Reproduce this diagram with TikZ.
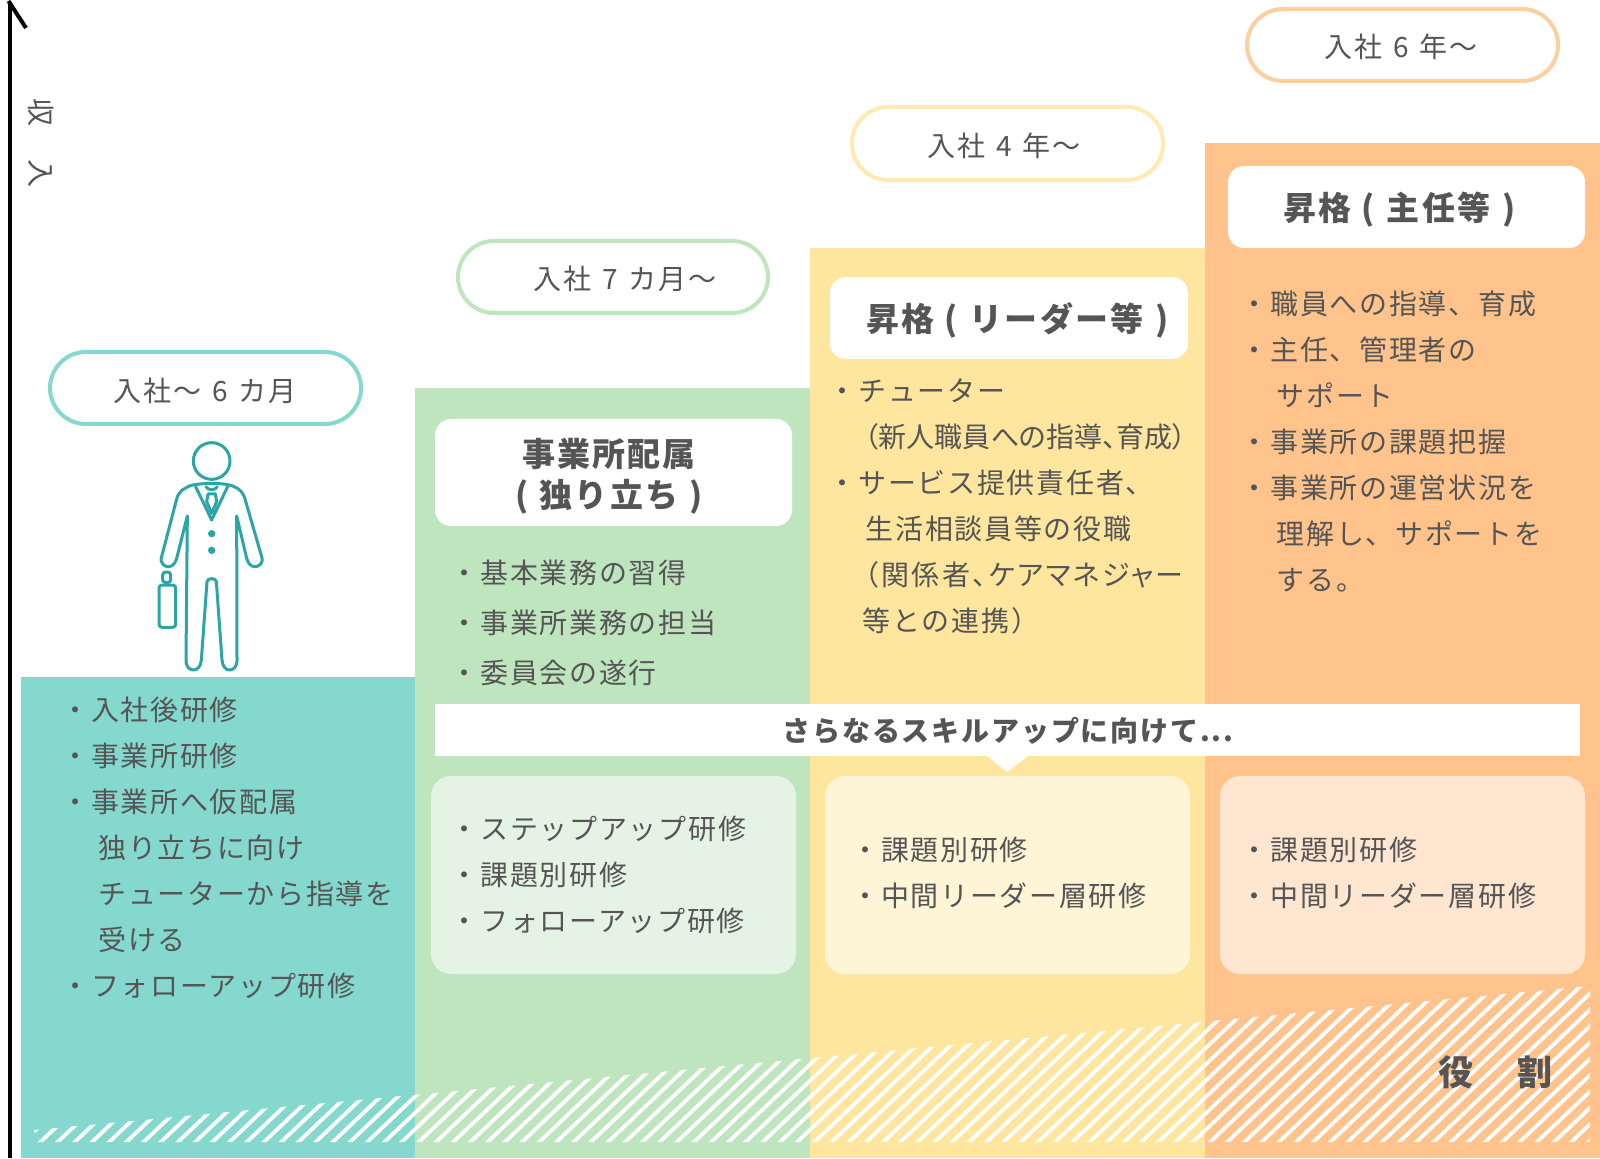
\documentclass[tikz,border=0pt]{standalone}
\usepackage{fontspec}
\newfontfamily\jp[LetterSpace=6]{Noto Sans CJK JP}
\newfontfamily\jptight[RawFeature={+palt}]{Noto Sans CJK JP}
\newfontfamily\jpmid[RawFeature={+palt},LetterSpace=8.5]{Noto Sans CJK JP}
\newfontfamily\jpban[LetterSpace=6.5]{Noto Sans CJK JP}
\newfontfamily\jphead[LetterSpace=6.5]{Noto Sans CJK JP}
\newfontfamily\jprole{Noto Sans CJK JP}
\newcommand\lst{\strut}
\newcommand\hsp{\hspace{5.5pt}}
\definecolor{ink}{HTML}{555555}
\definecolor{cteal}{HTML}{84D8CE}
\definecolor{cgreen}{HTML}{BFE5BF}
\definecolor{cyellow}{HTML}{FEE69E}
\definecolor{corange}{HTML}{FFC38B}
\definecolor{pgreen}{HTML}{E4F3E4}
\definecolor{pyellow}{HTML}{FEF4D6}
\definecolor{porange}{HTML}{FEE6D0}
\definecolor{lyellow}{HTML}{FFEBB0}
\definecolor{lorange}{HTML}{FBCFA0}
\definecolor{person}{HTML}{2BA5A5}
\tikzset{
  band/.style={fill=#1,draw=none},
  pill/.style={draw=#1,line width=2pt,fill=white,rounded corners=18pt},
  titlebox/.style={fill=white,draw=none,rounded corners=8pt},
  palebox/.style={fill=#1,draw=none,rounded corners=10pt},
  pilltext/.style={font=\fontsize{14}{18}\selectfont\jp,text=ink,inner sep=0pt},
  titletext/.style={font=\fontsize{16.5}{20}\selectfont\jphead\bfseries,text=ink,inner sep=0pt,align=center},
  bodytext/.style={font=\fontsize{14}{23}\selectfont\jp,text=ink,inner sep=0pt,align=left,anchor=north west},
  bodywide/.style={font=\fontsize{14}{25}\selectfont\jp,text=ink,inner sep=0pt,align=left,anchor=north west},
  figline/.style={draw=person,line width=1.5pt,line join=round,line cap=round},
}
\begin{document}
\begin{tikzpicture}[x=0.5pt,y=-0.5pt]
\useasboundingbox (0,0) rectangle (1600,1159);
% bands
\fill[band=cteal] (21,677.5) rectangle (415,1158);
\fill[band=cgreen] (415,388) rectangle (810,1158);
\fill[band=cyellow] (810,248) rectangle (1205,1158);
\fill[band=corange] (1205,143) rectangle (1600,1158);
% hatch
\begin{scope}
\clip (34,1130) -- (1590,986) -- (1590,1142) -- (37,1142) -- cycle;
\foreach \k in {-1,0,...,90}{
  \draw[white,line width=1.9pt] ({38.3+\k*17.2},1144) -- ({38.3+\k*17.2+180},{1144-180*0.95});
}
\end{scope}
% axis
\draw[black,line width=2pt] (10,1158) -- (10,2);
\draw[black,line width=2pt] (8.5,1) -- (26,28);
\node[rotate=-90,font=\fontsize{14}{16}\selectfont\jprole,text=ink,inner sep=0pt] (axislabel) at (41,143) {収\hspace{16.5pt}入};
% pills
\draw[pill=cteal] (50,352) rectangle (361,424);
\node[pilltext] (pill1) at (205,391) {入社～\hsp 6\hsp カ月};
\draw[pill=cgreen] (458,241) rectangle (768,313);
\node[pilltext] (pill2) at (625,279) {入社\hsp 7\hsp カ月～};
\draw[pill=lyellow] (852,107) rectangle (1163,180);
\node[pilltext] (pill3) at (1004,146) {入社\hsp 4\hsp 年～};
\draw[pill=lorange] (1247,9) rectangle (1558,81);
\node[pilltext] (pill4) at (1401,47) {入社\hsp 6\hsp 年～};
% title boxes
\fill[titlebox] (435,419) rectangle (792,526);
\node[titletext] (t1a) at (609,454) {事業所配属};
\node[titletext] (t1b) at (609,496.5) {(\hspace{5.5pt}独り立ち\hspace{5.5pt})};
\fill[titlebox] (830,277) rectangle (1188,359);
\node[titletext] (t2) at (1017.5,320.5) {昇格\hspace{5pt}(\hspace{6pt}リーダー等\hspace{6pt})};
\fill[titlebox] (1228,166) rectangle (1585,248);
\node[titletext] (t3) at (1399.5,209.5) {昇格\hspace{5pt}(\hspace{6pt}主任等\hspace{6pt})};
% banner
\fill[white] (435,704) rectangle (1580,756);
\fill[white] (987,756) -- (1028,756) -- (1007,772) -- cycle;
\node[font=\fontsize{14}{16}\selectfont\jpban\bfseries,text=ink,inner sep=0pt] (banner) at (1008,731) {さらなるスキルアップに向けて...};
% pale boxes
\fill[palebox=pgreen] (431,776) rectangle (796,974);
\fill[palebox=pyellow] (825,776) rectangle (1190,974);
\fill[palebox=porange] (1220,776) rectangle (1585,974);
% body text
\node[bodytext] (b1) at (61,688) {\lst・入社後研修\\・事業所研修\\・事業所へ仮配属\\\hspace*{18.5pt}独り立ちに向け\\\hspace*{18.5pt}チューターから指導を\\\hspace*{18.5pt}受ける\\・フォローアップ研修};
\node[bodywide] (b2) at (450.5,548) {\lst・基本業務の習得\\・事業所業務の担当\\・委員会の遂行};
\node[bodytext] (b3) at (828.5,368.5) {\lst・チューター\\\hspace*{18pt}{\jptight（新人職員への指導、育成）}\\・サービス提供責任者、\\\hspace*{18.5pt}生活相談員等の役職\\\hspace*{18pt}{\jpmid（関係者、ケアマネジャー}\\\hspace*{17pt}等との連携）};
\node[bodytext] (b4) at (1240.5,282) {\lst・職員への指導、育成\\・主任、管理者の\\\hspace*{18pt}サポート\\・事業所の課題把握\\・事業所の運営状況を\\\hspace*{18pt}理解し、サポートを\\\hspace*{18pt}する。};
\node[bodytext] (c1) at (450.5,807) {\lst・ステップアップ研修\\・課題別研修\\・フォローアップ研修};
\node[bodytext] (c2) at (851,828) {\lst・課題別研修\\・中間リーダー層研修};
\node[bodytext] (c3) at (1240.5,828) {\lst・課題別研修\\・中間リーダー層研修};
% role label
\node[font=\fontsize{17.5}{20}\selectfont\jprole\bfseries,text=ink,inner sep=0pt] (role) at (1495,1072) {役\hspace{22pt}割};
% person
\begin{scope}[shift={(130,430)},x=0.16667pt,y=-0.16667pt]
\draw[figline] (245,93) circle[radius=55];
\draw[figline] (245,160) .. controls (205,161) and (180,164) .. (165,175)
  .. controls (150,183) and (143,195) .. (140,207) -- (95,380)
  .. controls (88,400) and (105,412) .. (118,410)
  .. controls (130,408) and (136,398) .. (140,385) -- (172,258)
  -- (168,690) .. controls (168,712) and (180,720) .. (190,720)
  .. controls (203,720) and (213,708) .. (214,690) -- (231,455)
  .. controls (232,443) and (258,443) .. (259,455) -- (276,690)
  .. controls (277,708) and (287,720) .. (298,720)
  .. controls (310,720) and (321,712) .. (321,690) -- (320,258)
  -- (350,385) .. controls (354,398) and (360,408) .. (372,410)
  .. controls (385,412) and (402,400) .. (395,380) -- (345,207)
  .. controls (342,195) and (335,183) .. (322,175)
  .. controls (305,164) and (285,161) .. (245,160) -- cycle;
\draw[figline] (197,170) -- (245,270) -- (293,170);
\draw[figline] (228,170) .. controls (232,182) and (258,182) .. (262,170);
\draw[figline] (234,192) -- (256,192) -- (260,215) -- (245,250) -- (230,215) -- cycle;
\fill[person] (245,311) circle[radius=11];
\fill[person] (245,361) circle[radius=11];
\draw[figline,rounded corners=1.5pt] (87,465) rectangle (137,592);
\draw[figline,rounded corners=1.5pt] (98,426) rectangle (122,458);
\end{scope}
\end{tikzpicture}
\end{document}
